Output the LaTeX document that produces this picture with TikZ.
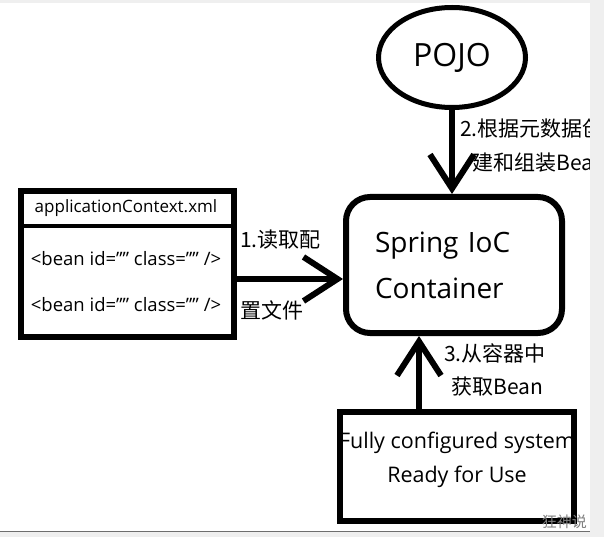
\documentclass[tikz,border=0pt]{standalone}
\usepackage{fontspec}
\setmainfont{Open Sans}
\newfontfamily\cjk{Noto Sans CJK SC}
\usetikzlibrary{positioning}
\usetikzlibrary{shapes.geometric,arrows.meta}
\definecolor{framegray}{HTML}{EFEFEF}
\definecolor{rulegray}{HTML}{6E6E6E}
\tikzset{
	arr/.style = {line width=6pt, -{Straight Barb[length=34pt, width=44pt]}},
	thickbox/.style = {rectangle, draw, line width=6pt, inner sep=0pt},
	roundbox/.style = {thickbox, rounded corners=24pt},
	pojo/.style = {ellipse, draw, line width=5pt, inner sep=0pt,
		minimum width=147pt, minimum height=100pt, font=\fontsize{32}{36}\selectfont},
	xmltext/.style = {font=\fontsize{17}{20}\selectfont},
	lab/.style = {anchor=west, inner sep=0pt, font=\cjk\fontsize{21}{24}\selectfont},
}

\begin{document}
\begin{tikzpicture}[x=1pt, y=-1pt]
	\useasboundingbox (0,0) rectangle (604,537);
	\fill[framegray] (0,0) rectangle (604,537);
	\fill[white] (0,3) rectangle (590,531);

	\node (pojo) [pojo] at (452,57.5) {\raisebox{-3pt}{POJO}};
	\node (spring) [roundbox, minimum width=216pt, minimum height=136pt,
		text width=158pt, inner xsep=29pt, align=left,
		font=\fontsize{28}{46}\selectfont] at (454,265) {Spring IoC\\Container};
	\node (xml) [thickbox, minimum width=213pt, minimum height=146pt] at (127.5,264) {};
	\node (fully) [thickbox, minimum width=234pt, minimum height=109pt] at (457,466.5) {};

	% xml file content
	\draw[line width=4pt] (xml.west |- 0,226) -- (xml.east |- 0,226);
	\node (head) [xmltext] at (126,208) {applicationContext.xml};
	\node (bean1) [xmltext, font=\fontsize{18.5}{20}\selectfont] at (126,259) {<bean id="" class="" />};
	\node (bean2) [xmltext, font=\fontsize{18.5}{20}\selectfont] at (126,305) {<bean id="" class="" />};
	\node (ready) [align=center, font=\fontsize{21.5}{34}\selectfont] at (457,460)
		{Fully configured system\\Ready for Use};

	\coordinate (readrow) at (0,279);
	\coordinate (getcol) at (419,0);
	\path[arr] (xml.east |- readrow) edge (spring.west |- readrow);
	\path[arr] (pojo.south) edge (pojo.south |- spring.north);
	\path[arr] (fully.north -| getcol) edge (spring.south -| getcol);

	\node (lab1a) [lab] at (240,240) {1.读取配};
	\node (lab1b) [lab] at (240,310) {置文件};
	\node (lab2a) [lab] at (460,129) {2.根据元数据创};
	\node (lab2b) [lab] at (472,163) {建和组装Bean};
	\node (lab3a) [lab] at (444,353) {3.从容器中};
	\node (lab3b) [lab] at (451,387) {获取Bean};

	% frame over clipped text
	\fill[framegray] (590,0) rectangle (604,537);
	\fill[framegray] (0,531) rectangle (604,537);
	\draw[rulegray, line width=1.5pt] (0,531.5) -- (590,531.5);
	\node (mark) [anchor=east, text=gray, inner sep=1pt,
		font=\cjk\fontsize{15}{16}\selectfont] at (588,522) {狂神说};
\end{tikzpicture}
\end{document}
